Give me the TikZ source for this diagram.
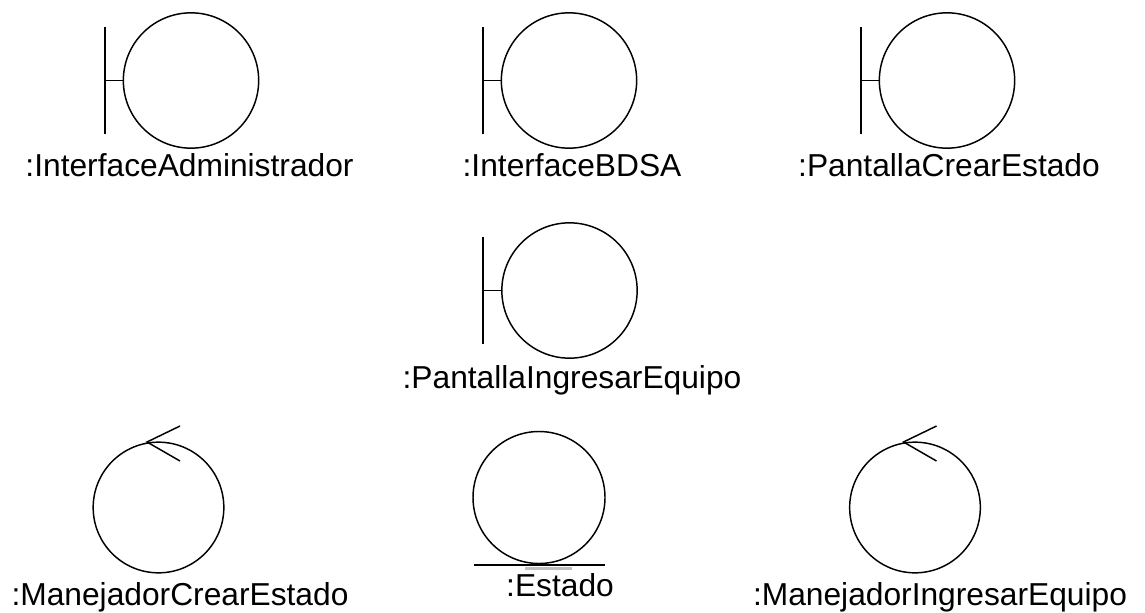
\documentclass[tikz,border=0pt]{standalone}
\usepackage{fontspec}
\setmainfont{Liberation Sans}
\tikzset{
  umlline/.style={black,line width=1.1pt},
  umlcircle/.style={umlline,circle,draw,minimum size=#1,inner sep=0pt,outer sep=0pt},
  umllabel/.style={anchor=base,inner sep=0pt,font=\fontsize{23.8}{26}\selectfont,text=black}
}
\begin{document}
\begin{tikzpicture}[x=0.75pt,y=-0.75pt]
    \useasboundingbox (0,0) rectangle (1145,613);
    %%%% Boundary %%%%%%%%%%%%%%%%%%%%%%%%%%%%%%%%%%%%%%%%%%%%%%%%%%%%%%%
    \foreach \bname/\cx/\cy/\bx/\txt/\lx/\ly in {
        admin/191/80.5/105/{:InterfaceAdministrador}/189.5/176,
        bdsa/569/80.5/483/{:InterfaceBDSA}/572/176,
        crear/947/80.5/861/{:PantallaCrearEstado}/949/176,
        ingresar/569.5/290.5/483/{:PantallaIngresarEquipo}/572/388}
    {
      \node[umlcircle=101.5pt] (\bname) at (\cx,\cy) {};
      \coordinate (\bname top) at (\bx,\cy-53.5);
      \coordinate (\bname bot) at (\bx,\cy+53.5);
      \coordinate (\bname mid) at (\bx,\cy);
      \draw[umlline] (\bname top) -- (\bname bot);
      \draw[umlline] (\bname mid) -- (\bname.west);
      \node[umllabel] (\bname label) at (\lx,\ly) {\txt};
    }
    %%%% Control %%%%%%%%%%%%%%%%%%%%%%%%%%%%%%%%%%%%%%%%%%%%%%%%%%%%%%%%
    \foreach \cname/\cx/\txt/\lx in {
        mcrear/158.5/{:ManejadorCrearEstado}/180,
        mingresar/915/{:ManejadorIngresarEquipo}/940}
    {
      \node[umlcircle=98pt] (\cname) at (\cx,507.5) {};
      \coordinate (\cname tip) at (\cx-11.5,442);
      \coordinate (\cname up) at (\cx+21.5,426);
      \coordinate (\cname down) at (\cx+21.5,461);
      \draw[umlline] (\cname up) -- (\cname tip) -- (\cname down);
      \node[umllabel] (\cname label) at (\lx,605) {\txt};
    }
    %%%% Entity %%%%%%%%%%%%%%%%%%%%%%%%%%%%%%%%%%%%%%%%%%%%%%%%%%%%%%%%%
    \node[umlcircle=99pt] (estado) at (539,497.5) {};
    \coordinate (estado a) at (474,565);
    \coordinate (estado b) at (605,565);
    \coordinate (smudge a) at (525,568.5);
    \coordinate (smudge b) at (572,568.5);
    \draw[black!25,line width=2pt] (smudge a) -- (smudge b);
    \draw[umlline,line width=1.4pt] (estado a) -- (estado b);
    \node[umllabel] (estado label) at (560,596) {:Estado};
\end{tikzpicture}
\end{document}
